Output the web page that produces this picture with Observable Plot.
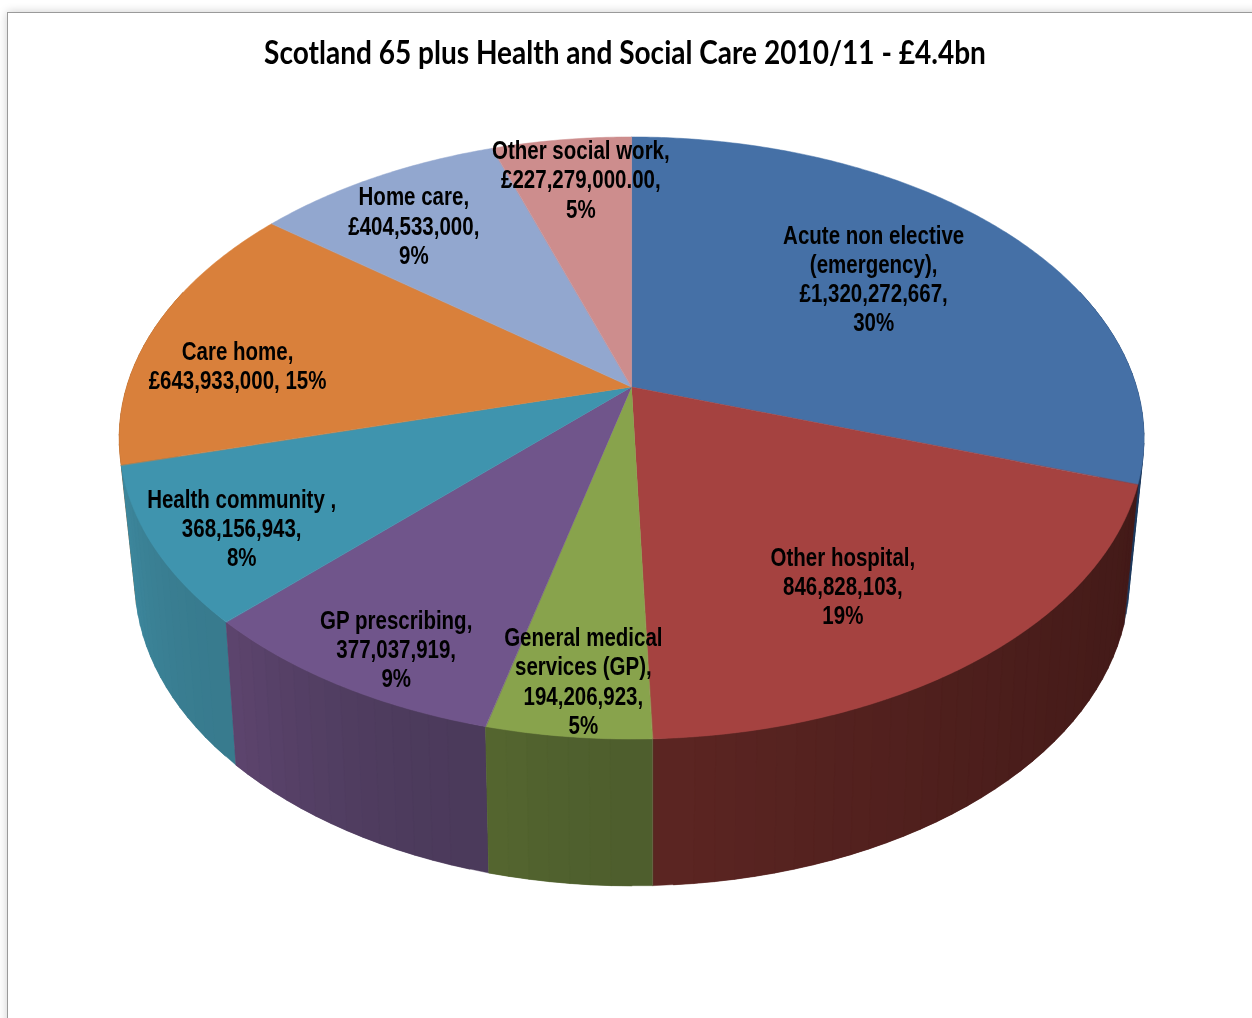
<!DOCTYPE html>
<html>
<head>
<meta charset="utf-8">
<script src="https://cdn.jsdelivr.net/npm/d3@7"></script>
<script src="https://cdn.jsdelivr.net/npm/@observablehq/plot@0.6"></script>
<style>
  html, body { margin: 0; padding: 0; background: #fff; overflow: hidden; width: 1252px; height: 1018px; }
  #frame { position: absolute; left: 7px; top: 12px; width: 1400px; height: 1200px; border: 1px solid #9a9a9a; box-shadow: 0 0 9px rgba(0,0,0,.2); background: #fff; }
  #title { position: absolute; left: 0; top: 31px; width: 1250px; margin: 0; text-align: center; font: 700 33px Lato, sans-serif; color: #000; white-space: nowrap; transform: scaleX(.85); transform-origin: 625px 0; filter: blur(.45px); }
  #chart { position: absolute; left: 0; top: 0; }
  #chart svg { display: block; background: transparent; filter: blur(.45px); }
</style>
</head>
<body>
<div id="frame"></div>
<h1 id="title">Scotland 65 plus Health and Social Care 2010/11 - £4.4bn</h1>
<div id="chart"></div>
<script>
// Data: clockwise from twelve o'clock
const categories = ["Acute non elective (emergency)", "Other hospital", "General medical services (GP)", "GP prescribing", "Health community", "Care home", "Home care", "Other social work"];
const costs = [1320272667, 846828103, 194206923, 377037919, 368156943, 643933000, 404533000, 227279000];
const labels = [
  "Acute non elective\n(emergency),\n£1,320,272,667,\n30%",
  "Other hospital,\n846,828,103,\n19%",
  "General medical\nservices (GP),\n194,206,923,\n5%",
  "GP prescribing,\n377,037,919,\n9%",
  "Health community ,\n368,156,943,\n8%",
  "Care home,\n£643,933,000, 15%",
  "Home care,\n£404,533,000,\n9%",
  "Other social work,\n£227,279,000.00,\n5%"
];
// Label anchors on the pie's disc: distance from centre (0-1) and bearing in degrees
const labelRadius = [0.648, 0.7135, 0.861, 0.8757, 0.8413, 0.795, 0.7767, 0.819];
const labelBearing = [52.0, 148.35, 185.5, 207.6, 238.2, 275.5, 322.1, 351.9];

// Colours
const topColors = ["#4570a6", "#a54240", "#88a34c", "#70558b", "#3f94ae", "#d9803b", "#92a7cf", "#cd8d8d"];
const wallFrom = ["#1e3a5e", "#431a18", "#4e5e2d", "#4b3a5b", "#387b8e", "#a0602c", "#6a7d9e", "#9a6a6a"];
const wallTo = ["#1e3a5e", "#5c2522", "#566830", "#5f4670", "#3e8aa0", "#a0602c", "#6a7d9e", "#9a6a6a"];

// Perspective of the tilted disc
const topView = {x: 631.6, y: 387, rx: 505, ry: 292.4, k: 0.1694};
const baseView = {x: 632, y: 525.6, rx: 489, ry: 295.5, k: 0.18};
const rad = Math.PI / 180;
function project(view, deg, r = 1) {
  const u = r * Math.sin(deg * rad), v = r * Math.cos(deg * rad);
  const d = 1 + view.k * v;
  return [view.x + view.rx * u / d, view.y - view.ry * v / d];
}

const total = d3.sum(costs);
const cum = d3.cumsum(costs).map(c => c / total * 360);
const slices = categories.map((name, i) => ({name, i, a0: i ? cum[i - 1] : 0, a1: cum[i]}));

// Top face: fan from the centre to the rim
const step = 0.5;
const topRows = slices.flatMap(s => {
  const n = Math.ceil((s.a1 - s.a0) / step);
  return d3.range(n + 1).map(j => {
    const a = s.a0 + (s.a1 - s.a0) * j / n;
    const [x, y] = project(topView, a);
    return {id: s.name, x1: topView.x, y1: topView.y, x2: x, y2: y, color: topColors[s.i]};
  });
});

// Front wall: vertical bands painted back to front; each band overlaps the one behind it
const wallStep = 2;
const strips = [];
slices.forEach(s => {
  const lo = Math.max(s.a0, 70), hi = Math.min(s.a1, 290);
  if (hi <= lo) return;
  const n = Math.ceil((hi - lo) / wallStep);
  const shade = d3.interpolateRgb(wallFrom[s.i], wallTo[s.i]);
  const w = (hi - lo) / n;
  const mid = (lo + hi) / 2;
  d3.range(n).forEach(j => {
    const a0 = lo + w * j, a1 = a0 + w;
    // widen toward the back of the pie, staying inside the slice
    const wide0 = mid < 180 ? Math.max(lo, a0 - w) : a0;
    const wide1 = mid < 180 ? a1 : Math.min(hi, a1 + w);
    strips.push({a0: wide0, a1: wide1, key: a0 + a1, color: shade(Math.pow((j + .5) / n, 1.5))});
  });
});
strips.sort((p, q) => Math.abs(q.key - 360) - Math.abs(p.key - 360));
const wallRows = strips.flatMap((st, k) => [st.a0, st.a1].map(a => {
  const [x1, y1] = project(topView, a), [x2, y2] = project(baseView, a);
  return {id: k, x1, y1, x2, y2, color: st.color};
}));

const labelRows = labels.map((text, i) => {
  const [x, y] = project(topView, labelBearing[i], labelRadius[i]);
  return {x, y, text};
});

const chart = Plot.plot({
  width: 1252,
  height: 1018,
  margin: 0,
  x: {domain: [0, 1252], range: [0, 1252], axis: null},
  y: {domain: [0, 1018], range: [0, 1018], axis: null},
  color: {type: "identity"},
  marks: [
    Plot.area(wallRows, {x1: "x1", y1: "y1", x2: "x2", y2: "y2", z: "id", fill: "color", stroke: "color", strokeWidth: 0.4}),
    Plot.area(topRows, {x1: "x1", y1: "y1", x2: "x2", y2: "y2", z: "id", fill: "color", stroke: "color", strokeWidth: 0.5}),
    Plot.text(labelRows, {x: "x", y: "y", text: "text", fontFamily: "'Liberation Sans', Arial, sans-serif", fontWeight: 700, fontSize: 25, lineHeight: 1.17, fill: "#000", textAnchor: "middle", lineAnchor: "middle"})
  ]
});
document.getElementById("chart").append(chart);
// Narrow the label glyphs to the chart's condensed look
d3.select(chart).selectAll("text").each(function () {
  const t = this.getAttribute("transform") || "";
  this.setAttribute("transform", t + " scale(0.82,1)");
});
</script>
</body>
</html>
